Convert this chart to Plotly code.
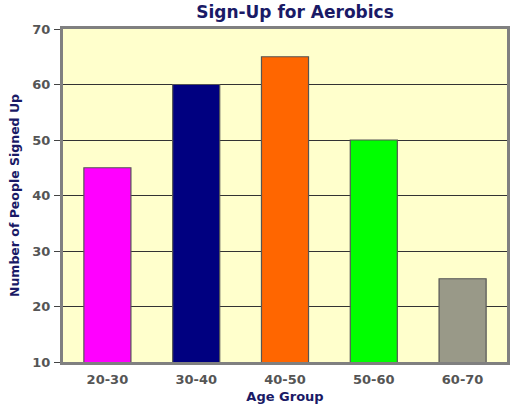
import plotly.graph_objects as go

categories = ["20-30", "30-40", "40-50", "50-60", "60-70"]
values = [45, 60, 65, 50, 25]
colors = ["#FF00FF", "#000080", "#FF6600", "#00FF00", "#999988"]

FONT = "DejaVu Sans"

fig = go.Figure(go.Bar(
    x=categories, y=values, base=0,
    marker=dict(color=colors, line=dict(color="#555555", width=1.2)),
))
fig.update_layout(
    width=512, height=417,
    margin=dict(l=63, r=5, t=29, b=55, autoexpand=False),
    paper_bgcolor="white", plot_bgcolor="#FFFFCC",
    bargap=0.47,
    showlegend=False,
    title=dict(text="<b>Sign-Up for Aerobics</b>", x=0.5225, xanchor="center", xref="paper",
               y=1 - 12 / 417, yanchor="middle", font=dict(family=FONT, size=17, color="#1a1a66")),
    font=dict(family=FONT),
)
fig.update_yaxes(
    range=[10, 70], dtick=10, showgrid=True, gridcolor="#333333", gridwidth=1,
    ticks="outside", ticklen=6, tickcolor="#444444", automargin=False, ticklabelstandoff=1,
    tickfont=dict(family=FONT, size=13, color="#555555"),
    title=dict(text="<b>Number of People Signed Up</b>", font=dict(family=FONT, size=12.5, color="#1a1a66"), standoff=10),
    showline=True, linecolor="#808080", linewidth=3, mirror=True, zeroline=False,
)
fig.update_xaxes(
    ticks="", automargin=False, ticklabelstandoff=3,
    tickfont=dict(family=FONT, size=13, color="#555555"),
    title=dict(text="<b>Age Group</b>", font=dict(family=FONT, size=13, color="#1a1a66"), standoff=7),
    showline=True, linecolor="#808080", linewidth=3, mirror=True,
)
fig.update_xaxes(tickprefix="<b>", ticksuffix="</b>")
fig.update_yaxes(tickprefix="<b>", ticksuffix="</b>")
fig.write_html("out.html", config={"displayModeBar": False},
               post_script="document.body.style.margin='0';document.body.style.overflow='hidden';")
